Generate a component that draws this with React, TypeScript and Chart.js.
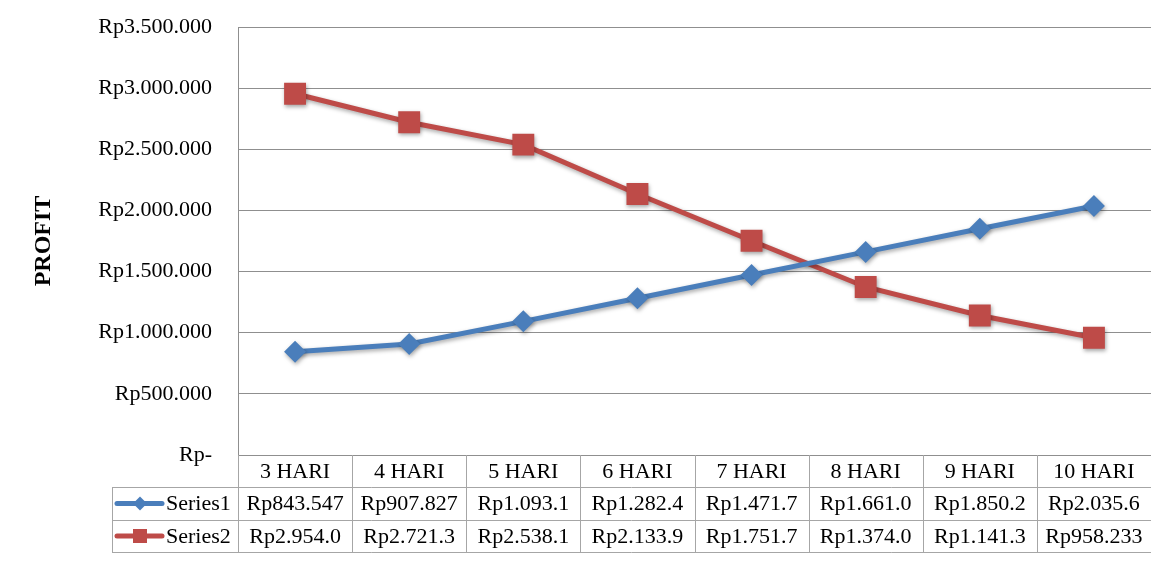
import React, { useEffect, useRef } from "react";
import { Chart, registerables } from "chart.js";

Chart.register(...registerables);

const categories = ["3 HARI", "4 HARI", "5 HARI", "6 HARI", "7 HARI", "8 HARI", "9 HARI", "10 HARI"];
const series1Values = [843547, 907827, 1093100, 1282400, 1471700, 1661000, 1850200, 2035600];
const series2Values = [2954000, 2721300, 2538100, 2133900, 1751700, 1374000, 1141300, 958233];
const series1Table = ["Rp843.547", "Rp907.827", "Rp1.093.1", "Rp1.282.4", "Rp1.471.7", "Rp1.661.0", "Rp1.850.2", "Rp2.035.6"];
const series2Table = ["Rp2.954.0", "Rp2.721.3", "Rp2.538.1", "Rp2.133.9", "Rp1.751.7", "Rp1.374.0", "Rp1.141.3", "Rp958.233"];
const seriesNames = ["Series1", "Series2"];

const BLUE = "#4A7EBB";
const RED = "#BE4B48";
const GRID = "#8f8f8f";
const TABLE_LINE = "#a6a6a6";
const FONT = "'Liberation Serif', 'Times New Roman', serif";

function fmtRp(v: number): string {
  if (v === 0) return "Rp-";
  return "Rp" + Math.round(v).toString().replace(/\B(?=(\d{3})+(?!\d))/g, ".");
}

const shadowPlugin = {
  id: "shadow",
  beforeDatasetsDraw(chart: any) {
    const ctx = chart.ctx;
    ctx.save();
    ctx.shadowColor = "rgba(0,0,0,0.35)";
    ctx.shadowBlur = 4;
    ctx.shadowOffsetX = 1;
    ctx.shadowOffsetY = 2;
  },
  afterDatasetsDraw(chart: any) {
    chart.ctx.restore();
  },
};

const tablePlugin = {
  id: "dataTable",
  afterDraw(chart: any) {
    const ctx = chart.ctx;
    const area = chart.chartArea;
    const xs = chart.scales.x;
    const n = categories.length;
    const colW = (area.right - area.left) / n;
    const top = area.bottom;
    const r1 = top + 32;
    const r2 = top + 65;
    const r3 = top + 97;
    const legLeft = 112;
    ctx.save();
    ctx.strokeStyle = TABLE_LINE;
    ctx.lineWidth = 1;
    ctx.beginPath();
    for (const y of [r1, r2, r3]) {
      ctx.moveTo(legLeft, y + 0.5);
      ctx.lineTo(area.right, y + 0.5);
    }
    for (let i = 0; i < n; i++) {
      const x = Math.round(area.left + i * colW) + 0.5;
      ctx.moveTo(x, top);
      ctx.lineTo(x, r3);
    }
    ctx.moveTo(legLeft + 0.5, r1);
    ctx.lineTo(legLeft + 0.5, r3);
    ctx.stroke();

    ctx.fillStyle = "#000";
    ctx.font = `22px ${FONT}`;
    ctx.textAlign = "center";
    ctx.textBaseline = "middle";
    for (let i = 0; i < n; i++) {
      const cx = xs.getPixelForValue(i);
      ctx.fillText(categories[i], cx, (top + r1) / 2 + 1);
      ctx.fillText(series1Table[i], cx, (r1 + r2) / 2 + 1);
      ctx.fillText(series2Table[i], cx, (r2 + r3) / 2 + 1);
    }
    const colors = [BLUE, RED];
    const rows = [(r1 + r2) / 2, (r2 + r3) / 2];
    for (let s = 0; s < 2; s++) {
      const y = rows[s];
      ctx.strokeStyle = colors[s];
      ctx.lineWidth = 5;
      ctx.lineCap = "round";
      ctx.beginPath();
      ctx.moveTo(117, y);
      ctx.lineTo(162, y);
      ctx.stroke();
      ctx.fillStyle = colors[s];
      ctx.beginPath();
      if (s === 0) {
        ctx.moveTo(140, y - 7);
        ctx.lineTo(147, y);
        ctx.lineTo(140, y + 7);
        ctx.lineTo(133, y);
      } else {
        ctx.rect(133, y - 7, 14, 14);
      }
      ctx.closePath();
      ctx.fill();
      ctx.fillStyle = "#000";
      ctx.textAlign = "left";
      ctx.fillText(seriesNames[s], 166, y + 1);
    }
    ctx.restore();
  },
};

export default function App() {
  const ref = useRef<HTMLCanvasElement>(null);
  useEffect(() => {
    if (!ref.current) return;
    const chart = new Chart(ref.current, {
      type: "line",
      data: {
        labels: categories,
        datasets: [
          {
            label: seriesNames[0],
            data: series1Values,
            borderColor: BLUE,
            backgroundColor: BLUE,
            borderWidth: 5,
            pointStyle: "rectRot",
            pointRadius: 11,
            pointBorderWidth: 0,
            pointBackgroundColor: BLUE,
            tension: 0,
          },
          {
            label: seriesNames[1],
            data: series2Values,
            borderColor: RED,
            backgroundColor: RED,
            borderWidth: 5,
            pointStyle: "rect",
            pointRadius: 15.5,
            pointBorderWidth: 0,
            pointBackgroundColor: RED,
            tension: 0,
          },
        ],
      },
      options: {
        animation: false,
        responsive: false,
        layout: { autoPadding: false, padding: { top: 27, bottom: 117, left: 0, right: 0 } },
        plugins: { legend: { display: false }, tooltip: { enabled: false } },
        scales: {
          x: {
            display: false,
            offset: true,
            ticks: { display: false },
            afterFit(scale: any) {
              scale.paddingLeft = 0;
              scale.paddingRight = 0;
              scale.paddingTop = 0;
              scale.paddingBottom = 0;
            },
          },
          y: {
            min: 0,
            max: 3500000,
            afterFit(scale: any) {
              scale.width = 238;
              scale.paddingTop = 0;
              scale.paddingBottom = 0;
              scale.paddingLeft = 0;
              scale.paddingRight = 0;
            },
            ticks: {
              stepSize: 500000,
              padding: 26,
              color: "#000",
              font: { family: FONT, size: 22 },
              callback: (v: any) => fmtRp(Number(v)),
            },
            grid: { color: GRID, lineWidth: 1, drawTicks: false },
            border: { color: GRID, width: 1 },
            title: {
              display: true,
              text: "PROFIT",
              color: "#000",
              font: { family: FONT, size: 24, weight: "bold" },
              padding: { top: 29, bottom: 0 },
            },
          },
        },
      },
      plugins: [shadowPlugin, tablePlugin],
    });
    return () => chart.destroy();
  }, []);
  return (
    <div style={{ position: "fixed", left: 0, top: 0, width: 1151, height: 572, background: "#fff" }}>
      <canvas ref={ref} width={1151} height={572} style={{ display: "block" }} />
    </div>
  );
}
